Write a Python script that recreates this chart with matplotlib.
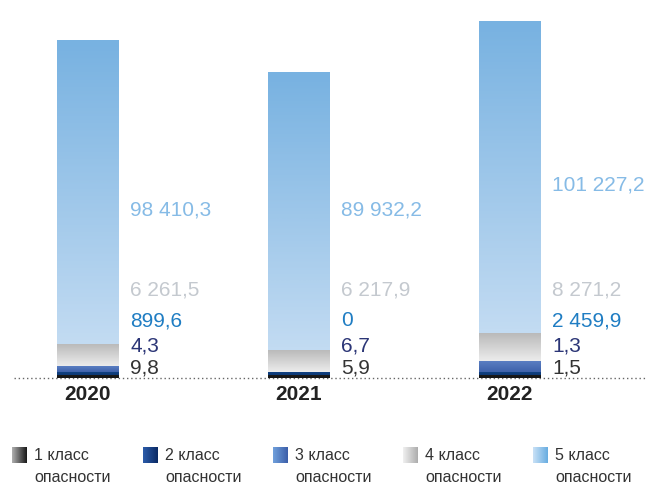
import numpy as np
import matplotlib
matplotlib.use('Agg')
import matplotlib.pyplot as plt
from matplotlib.colors import LinearSegmentedColormap

# waste volumes by hazard class, tonnes
years = ['2020', '2021', '2022']
class1 = [9.8, 5.9, 1.5]
class2 = [4.3, 6.7, 1.3]
class3 = [899.6, 0.0, 2459.9]
class4 = [6261.5, 6217.9, 8271.2]
class5 = [98410.3, 89932.2, 101227.2]
legend_names = ['1 класс\nопасности', '2 класс\nопасности', '3 класс\nопасности',
                '4 класс\nопасности', '5 класс\nопасности']

series = [class1, class2, class3, class4, class5]

# segment gradients (bottom colour, top colour)
bar_grad = [('#141414', '#1c1c1c'),
            ('#0c3874', '#124486'),
            ('#3f62ab', '#5a7ec2'),
            ('#ececec', '#b8b8b8'),
            ('#c2dbf2', '#78b2e1')]
# legend swatch gradients (left, right)
leg_grad = [('#b0b0b0', '#181818'),
            ('#2c5caa', '#0a2a64'),
            ('#70a0dc', '#3c5fa9'),
            ('#f0f0f0', '#adadad'),
            ('#c9e1f6', '#68ade1')]
label_colors = ['#333333', '#2b3576', '#1f7dc3', '#c4c9cf', '#86bbe6']

# small classes would vanish at true scale, so every non-zero
# segment gets a small fixed extra height to stay visible
pad = 1000.0
px_per_unit = 0.00305

label_px = [10, 32, 57, 88]       # class 1-4 label heights above baseline
top_label_px = [168, 168, 193]    # class 5 label height per year


def fmt(v):
    if v == 0:
        return '0'
    return f'{v:,.1f}'.replace(',', ' ').replace('.', ',')


fig = plt.figure(figsize=(6.49, 4.84), dpi=100)

# legend layer in pixel coordinates
lax = fig.add_axes([0, 0, 1, 1])
lax.set_xlim(0, 649)
lax.set_ylim(484, 0)
lax.axis('off')

base_px = 378
ax = fig.add_axes([14 / 649, (484 - base_px) / 484, 631 / 649, base_px / 484])
ax.set_xlim((14 - 87.5) / 211, (645 - 87.5) / 211)
ax.set_ylim(0, base_px / px_per_unit)
ax.axis('off')

width = 0.29
x = np.arange(len(years))
grad = np.linspace(0, 1, 64).reshape(-1, 1)

bottom = np.zeros(len(years))
for k, vals in enumerate(series):
    cmap = LinearSegmentedColormap.from_list(f'c{k}', bar_grad[k])
    for i, v in enumerate(vals):
        if v <= 0:
            continue
        h = v + pad
        ax.imshow(grad, cmap=cmap, origin='lower', aspect='auto',
                  extent=[x[i] - width / 2, x[i] + width / 2, bottom[i], bottom[i] + h],
                  interpolation='bilinear', zorder=3)
        bottom[i] += h

# dotted baseline, just under the bars
ax.plot([0, 1], [0, 0], transform=ax.transAxes, color='#666666',
        linestyle=(0, (1, 2)), linewidth=1.0, clip_on=False, zorder=2)

for i, yr in enumerate(years):
    ax.annotate(yr, xy=(x[i], 0), xytext=(0, -17 * 0.72), textcoords='offset points',
                ha='center', va='center', fontsize=15, fontweight='bold',
                family='Liberation Sans', color='#222222', annotation_clip=False)
    for k, vals in enumerate(series):
        off = label_px[k] if k < 4 else top_label_px[i]
        ax.annotate(fmt(vals[i]), xy=(x[i] + width / 2, 0),
                    xytext=(12 * 0.72, off * 0.72), textcoords='offset points',
                    ha='left', va='center', fontsize=15, family='Liberation Sans',
                    color=label_colors[k], annotation_clip=False)

sq_x = [12, 143, 273, 403, 533]
hgrad = np.linspace(0, 1, 64).reshape(1, -1)
for k, name in enumerate(legend_names):
    cmap = LinearSegmentedColormap.from_list(f'l{k}', leg_grad[k])
    lax.imshow(hgrad, cmap=cmap, aspect='auto', interpolation='bilinear',
               extent=[sq_x[k], sq_x[k] + 15, 463, 447])
    first, second = name.split('\n')
    lax.text(sq_x[k] + 22, 456, first, ha='left', va='center', fontsize=11.5,
             family='Liberation Sans', color='#333333')
    lax.text(sq_x[k] + 22, 477, second, ha='left', va='center', fontsize=11.5,
             family='Liberation Sans', color='#333333')
lax.set_xlim(0, 649)
lax.set_ylim(484, 0)

fig.savefig('out.png', dpi=100)
